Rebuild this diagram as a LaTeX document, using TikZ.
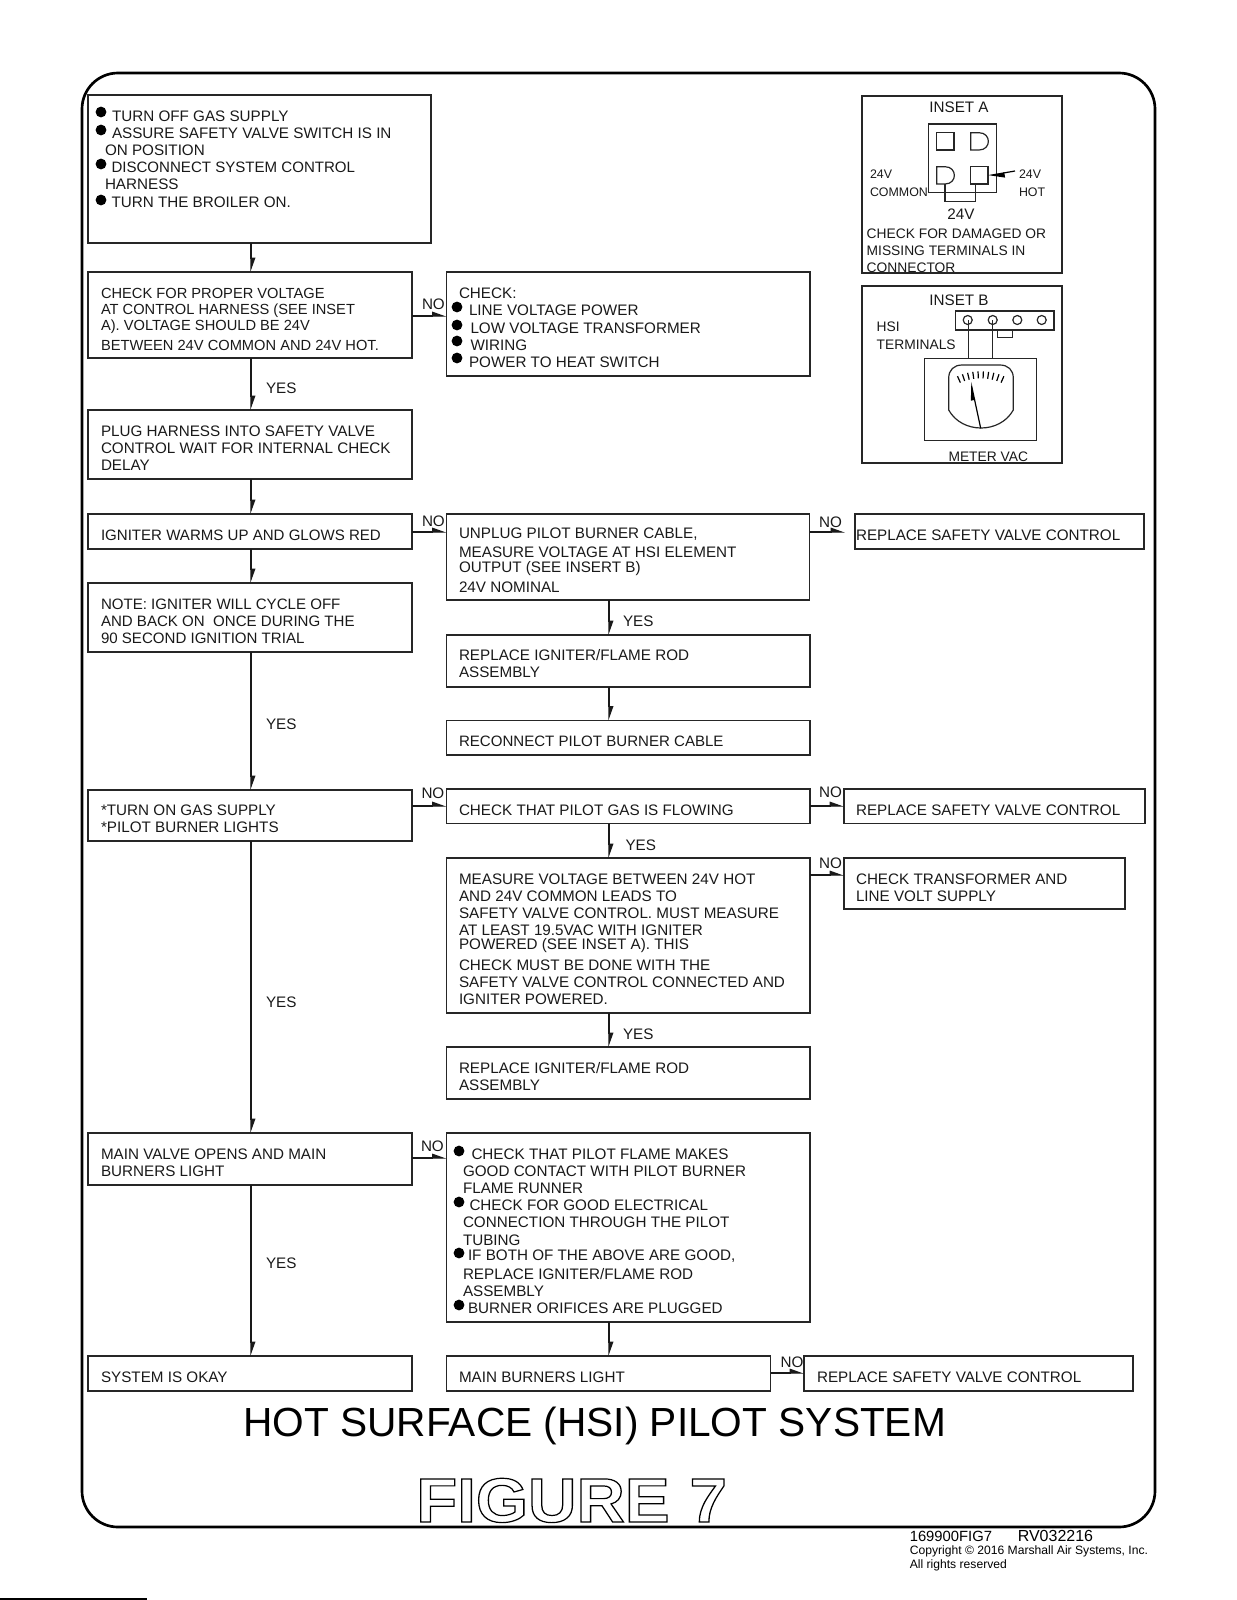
\documentclass[tikz,border=0pt]{standalone}
\usepackage{fontspec}
\setmainfont{Liberation Sans}
\newfontface\figfont{Liberation Sans Bold}
\usepackage{graphicx}
\usetikzlibrary{fit,arrows.meta}
\newcounter{tlcnt}
\tikzset{
  x=0.75pt,y=-0.75pt,
  boxst/.style={draw=black!85,line width=.9pt,inner sep=0pt,outer sep=0pt,fill=none},
  txt/.style={anchor=base west,inner sep=0pt,outer sep=0pt,font=\fontsize{11.42pt}{13pt}\selectfont,text=black!90},
  narrowtxt/.style={txt,font=\fontsize{11pt}{13pt}\selectfont},
  midtxt/.style={txt,font=\fontsize{11.3pt}{13pt}\selectfont},
  insettxt/.style={txt,font=\fontsize{10.35pt}{12pt}\selectfont},
  smalltxt/.style={txt,font=\fontsize{9.3pt}{11pt}\selectfont},
  conn/.style={line width=.9pt,draw=black!90,-{Triangle[harpoon,length=9.5pt,width=6.5pt]}},
  thin part/.style={line width=.9pt,draw=black!85},
}
\newcommand{\bx}[5]{\node[boxst,fit={(#2,#3)(#4,#5)}] (#1) {};}
\newcommand{\tl}[3]{\stepcounter{tlcnt}\node[txt] (t\thetlcnt) at (#1,#2) {#3};}
\newcommand{\tln}[3]{\stepcounter{tlcnt}\node[narrowtxt] (t\thetlcnt) at (#1,#2) {#3};}
\newcommand{\tlm}[3]{\stepcounter{tlcnt}\node[midtxt] (t\thetlcnt) at (#1,#2) {#3};}
\newcommand{\tli}[3]{\stepcounter{tlcnt}\node[insettxt] (t\thetlcnt) at (#1,#2) {#3};}
\newcommand{\tls}[3]{\stepcounter{tlcnt}\node[smalltxt] (t\thetlcnt) at (#1,#2) {#3};}
\newcommand{\bul}[2]{\fill[black] (#1,#2) circle[radius=5.4];}
\newcommand{\outlinetext}[1]{\special{pdf:code q 1 Tr 0.9 w 0 0 0 RG}#1\special{pdf:code Q}}
\begin{document}
\begin{tikzpicture}
\useasboundingbox (0,0) rectangle (1237,1600);
\draw[line width=2pt,rounded corners=27pt] (82,73) rectangle (1155,1527);
\draw[line width=1.2pt] (0,1599) -- (147,1599);
% boxes
\bx{b1}{88}{95}{431}{243}
\bx{b2}{88}{272}{412}{358}
\bx{chk}{446.5}{272}{810}{376}
\bx{plug}{88}{410}{412}{479}
\bx{ign}{88}{514}{412}{549}
\bx{note}{88}{583}{412}{652}
\bx{unp}{446.5}{514}{809.5}{600}
\bx{svca}{855}{514}{1144}{549}
\bx{repa}{446.5}{635}{810}{687}
\bx{rec}{446.5}{720.5}{810}{755}
\bx{gas}{88}{790}{412}{841}
\bx{pil}{446.5}{789}{810}{823.5}
\bx{svcb}{844}{789}{1145}{823.5}
\bx{mea}{446.5}{858}{810}{1013}
\bx{trf}{844}{858}{1125}{909}
\bx{repb}{446.5}{1047}{810}{1099}
\bx{mv}{88}{1133}{412}{1185}
\bx{lst}{446.5}{1133}{810}{1322}
\bx{ok}{88}{1356}{412}{1391}
\bx{mbl}{446.5}{1356}{770.5}{1391}
\bx{svcc}{804}{1356}{1133}{1391}
\bx{insa}{862}{96}{1062}{273}
\bx{insb}{862}{286}{1062}{463}
% connector guides
\coordinate (xl) at (251,0);
\coordinate (xm) at (609,0);
\coordinate (ya) at (0,316);
\coordinate (yb) at (0,532);
\coordinate (yc) at (0,806);
\coordinate (yd) at (0,875);
\coordinate (ye) at (0,1158);
\coordinate (yf) at (0,1373);
\coordinate (freeend) at (845,532);
% down connectors
\draw[conn] (b1.south -| xl) -- (b2.north -| xl);
\draw[conn] (b2.south -| xl) -- (plug.north -| xl);
\draw[conn] (plug.south -| xl) -- (ign.north -| xl);
\draw[conn] (ign.south -| xl) -- (note.north -| xl);
\draw[conn] (note.south -| xl) -- (gas.north -| xl);
\draw[conn] (gas.south -| xl) -- (mv.north -| xl);
\draw[conn] (mv.south -| xl) -- (ok.north -| xl);
\draw[conn] (unp.south -| xm) -- (repa.north -| xm);
\draw[conn] (repa.south -| xm) -- (rec.north -| xm);
\draw[conn] (pil.south -| xm) -- (mea.north -| xm);
\draw[conn] (mea.south -| xm) -- (repb.north -| xm);
\draw[conn] (lst.south -| xm) -- (mbl.north -| xm);
% right connectors
\draw[conn] (b2.east |- ya) -- (chk.west |- ya);
\draw[conn] (ign.east |- yb) -- (unp.west |- yb);
\draw[conn] (unp.east |- yb) -- (freeend);
\draw[conn] (gas.east |- yc) -- (pil.west |- yc);
\draw[conn] (pil.east |- yc) -- (svcb.west |- yc);
\draw[conn] (mea.east |- yd) -- (trf.west |- yd);
\draw[conn] (mv.east |- ye) -- (lst.west |- ye);
\draw[conn] (mbl.east |- yf) -- (svcc.west |- yf);
% box 1
\bul{101}{112}\bul{101}{130}\bul{101}{164}\bul{101}{200}
\tl{112}{121}{TURN OFF GAS SUPPLY}
\tl{112}{138}{ASSURE SAFETY VALVE SWITCH IS IN}
\tl{105}{155}{ON POSITION}
\tlm{111.5}{172}{DISCONNECT SYSTEM CONTROL}
\tl{105}{189}{HARNESS}
\tl{111.5}{207}{TURN THE BROILER ON.}
% box 2
\tln{101}{298}{CHECK FOR PROPER VOLTAGE}
\tln{101}{314}{AT CONTROL HARNESS (SEE INSET}
\tln{101}{330}{A). VOLTAGE SHOULD BE 24V}
\tln{101}{350}{BETWEEN 24V COMMON AND 24V HOT.}
\tl{422}{309}{NO}
\tl{266}{393}{YES}
% check
\bul{457}{307}\bul{457}{325}\bul{457}{341}\bul{457}{358}
\tl{459}{298.5}{CHECK:}
\tl{469}{315.5}{LINE VOLTAGE POWER}
\tl{470.5}{333}{LOW VOLTAGE TRANSFORMER}
\tl{470.5}{350.5}{WIRING}
\tl{469}{367}{POWER TO HEAT SWITCH}
% plug
\tl{101}{436}{PLUG HARNESS INTO SAFETY VALVE}
\tl{101}{453}{CONTROL WAIT FOR INTERNAL CHECK}
\tl{101}{470}{DELAY}
% igniter
\tlm{101}{540.5}{IGNITER WARMS UP AND GLOWS RED}
\tl{422}{526}{NO}
\tl{459}{538}{UNPLUG PILOT BURNER CABLE,}
\tl{459}{557}{MEASURE VOLTAGE AT HSI ELEMENT}
\tl{459}{572}{OUTPUT (SEE INSERT B)}
\tl{459}{592}{24V NOMINAL}
\tl{819}{527}{NO}
\tl{856}{540.5}{REPLACE SAFETY VALVE CONTROL}
\tl{623}{626}{YES}
\tl{459}{660}{REPLACE IGNITER/FLAME ROD}
\tl{459}{677}{ASSEMBLY}
\tlm{459}{746.5}{RECONNECT PILOT BURNER CABLE}
% note
\tlm{101}{609}{NOTE: IGNITER WILL CYCLE OFF}
\tlm{101}{626}{AND BACK ON~~ONCE DURING THE}
\tlm{101}{643.5}{90 SECOND IGNITION TRIAL}
\tl{266}{729}{YES}
% gas
\tl{101}{815}{*TURN ON GAS SUPPLY}
\tl{101}{832}{*PILOT BURNER LIGHTS}
\tl{421.5}{798}{NO}
\tl{459}{815}{CHECK THAT PILOT GAS IS FLOWING}
\tl{819}{797}{NO}
\tl{856}{815}{REPLACE SAFETY VALVE CONTROL}
\tl{625.5}{850}{YES}
\tl{819}{868}{NO}
\tl{856}{884}{CHECK TRANSFORMER AND}
\tl{856}{901}{LINE VOLT SUPPLY}
% measure
\tl{459}{884}{MEASURE VOLTAGE BETWEEN 24V HOT}
\tl{459}{901}{AND 24V COMMON LEADS TO}
\tl{459}{918}{SAFETY VALVE CONTROL. MUST MEASURE}
\tl{459}{935}{AT LEAST 19.5VAC WITH IGNITER}
\tl{459}{949.5}{POWERED (SEE INSET A). THIS}
\tl{459}{970}{CHECK MUST BE DONE WITH THE}
\tl{459}{987}{SAFETY VALVE CONTROL CONNECTED AND}
\tl{459}{1004}{IGNITER POWERED.}
\tl{623}{1039}{YES}
\tl{459}{1073}{REPLACE IGNITER/FLAME ROD}
\tl{459}{1090.5}{ASSEMBLY}
\tl{266}{1007}{YES}
% main valve
\tl{101}{1159}{MAIN VALVE OPENS AND MAIN}
\tl{101}{1176}{BURNERS LIGHT}
\tl{421}{1151}{NO}
\tl{266}{1268}{YES}
% list
\bul{459}{1151}\bul{459}{1202}\bul{459}{1253}\bul{459}{1305}
\tl{471.5}{1159}{CHECK THAT PILOT FLAME MAKES}
\tl{463}{1176}{GOOD CONTACT WITH PILOT BURNER}
\tl{463}{1193}{FLAME RUNNER}
\tl{469.5}{1210}{CHECK FOR GOOD ELECTRICAL}
\tl{463}{1227}{CONNECTION THROUGH THE PILOT}
\tl{463}{1245}{TUBING}
\tl{468}{1260}{IF BOTH OF THE ABOVE ARE GOOD,}
\tl{463}{1279}{REPLACE IGNITER/FLAME ROD}
\tl{463}{1296}{ASSEMBLY}
\tl{468}{1313}{BURNER ORIFICES ARE PLUGGED}
% bottom row
\tl{101}{1382}{SYSTEM IS OKAY}
\tl{459}{1382}{MAIN BURNERS LIGHT}
\tl{780.5}{1367}{NO}
\tl{817}{1382}{REPLACE SAFETY VALVE CONTROL}
% title
\node[anchor=base west,inner sep=0pt,font=\fontsize{30.5pt}{36pt}\selectfont] (title) at (243,1436) {HOT SURFACE (HSI) PILOT SYSTEM};
\node[anchor=base west,inner sep=0pt,font=\figfont\fontsize{47pt}{50pt}\selectfont] (figlab) at (416,1522) {\scalebox{1.07}[1]{\outlinetext{FIGURE\hspace{0.3em}7}}};
% footer
\node[anchor=base west,inner sep=0pt,font=\fontsize{11.1pt}{12pt}\selectfont] (ftra) at (909.5,1541.6) {169900FIG7};
\node[anchor=base west,inner sep=0pt,font=\fontsize{12pt}{13pt}\selectfont] (ftrb) at (1017.5,1541.6) {RV032216};
\node[anchor=base west,inner sep=0pt,font=\fontsize{9.1pt}{10pt}\selectfont] (ftrc) at (909.5,1554) {Copyright © 2016 Marshall Air Systems, Inc.};
\node[anchor=base west,inner sep=0pt,font=\fontsize{9.1pt}{10pt}\selectfont] (ftrd) at (909.5,1568) {All rights reserved};
% inset A
\node[txt,anchor=base] (ia) at (959,112) {INSET A};
\draw[thin part] (928.3,124) rectangle (996.7,192.7);
\draw[thin part] (936.7,132.7) rectangle (954,150);
\draw[thin part] (970.7,132.7) -- (979,132.7) .. controls (991.5,132.7) and (991.5,150) .. (979,150) -- (970.7,150) -- cycle;
\draw[thin part] (936.7,166.7) -- (945,166.7) .. controls (957.5,166.7) and (957.5,184) .. (945,184) -- (936.7,184) -- cycle;
\draw[thin part] (970.7,166.7) rectangle (988,184);
\draw[thin part] (945,184) -- (945,201.7) -- (975.7,201.7) -- (975.7,184);
\coordinate (hotfrom) at (1015,171);
\coordinate (hotto) at (988,175.7);
\draw[line width=.9pt,-{Triangle[harpoon,length=11pt,width=7pt]}] (hotfrom) -- (hotto);
\tls{870}{178}{24V}
\tls{870}{196}{COMMON}
\tls{1019}{178}{24V}
\tls{1019}{196}{HOT}
\node[txt,anchor=base] (a24) at (961,219) {24V};
\tli{866.7}{238}{CHECK FOR DAMAGED OR}
\tli{866.7}{255}{MISSING TERMINALS IN}
\tli{866.7}{272}{CONNECTOR}
% inset B
\node[txt,anchor=base] (ib) at (959,305) {INSET B};
\draw[thin part] (955.7,311) rectangle (1054,330);
\foreach \cx in {967.7,992.7,1017.3,1041.7} \draw[thin part] (\cx,320) circle[radius=4.5];
\draw[thin part] (997.3,330) -- (997.3,337.3) -- (1012.3,337.3) -- (1012.3,330);
\draw[thin part] (968.3,320) -- (968.3,358.3);
\draw[thin part] (992.7,320) -- (992.7,358.3);
\draw[thin part] (924.3,358.3) rectangle (1036.7,440.7);
\draw[thin part] (948.7,410) -- (948.7,378) .. controls (948.7,370) and (954,365) .. (962,365) -- (1000,365) .. controls (1008,365) and (1013.3,370) .. (1013.3,378) -- (1013.3,410) .. controls (1000,434) and (962,434) .. (948.7,410);
\foreach \a in {66,71.3,76.7,82,87.3,92.7,98,103.3,108.7,114}
  \draw[line width=.9pt] ({980.7+50*cos(\a)},{428.3-50*sin(\a)}) -- ({980.7+57*cos(\a)},{428.3-57*sin(\a)});
\coordinate (ndla) at (980.7,428.3);
\coordinate (ndlb) at (970.7,381.7);
\draw[line width=.9pt,-{Triangle[harpoon,length=12pt,width=5.5pt]}] (ndla) -- (ndlb);
\tli{876.7}{331.7}{HSI}
\tli{876.7}{349}{TERMINALS}
\tli{948.5}{461.7}{METER VAC}
\end{tikzpicture}
\end{document}
